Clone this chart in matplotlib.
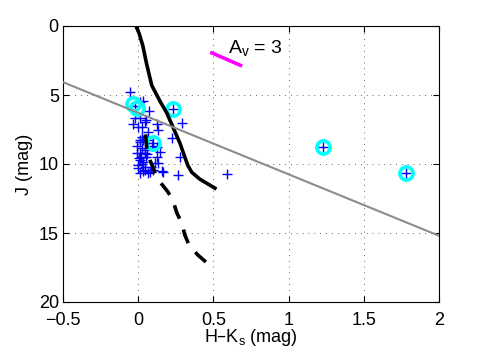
#!/usr/bin/env python3
"""Colour-magnitude diagram J vs H-Ks, MATLAB look."""
import matplotlib
matplotlib.use('Agg')
import matplotlib.pyplot as plt
import numpy as np

plt.rcParams['font.family'] = ['Liberation Sans', 'DejaVu Sans']
plt.rcParams['mathtext.default'] = 'regular'

# stars (H-Ks, J)
star_hk = [-0.055, 0.032, 0.012, 0.072, -0.021, 0.012, 0.052, -0.035, 0.045, -0.001,
           0.025, 0.125, 0.132, 0.065, 0.025, 0.012, 0.032, 0.225, 0.291, 0.125,
           0.145, 0.125, 0.012, -0.008, 0.025, 0.045, 0.012, -0.008, 0.045, 0.019,
           0.052, 0.012, 0.032, -0.001, 0.025, 0.045, 0.085, -0.001, 0.045, 0.012,
           0.065, 0.078, 0.158, 0.112, 0.132, 0.278, 0.265, 0.59, 0.165, 0.092,
           0.065, -0.021, 0.231, 0.098, 1.229, 1.78, 0.005, 0.06, 0.1, 0.03]
star_j = [4.78, 5.43, 5.51, 6.16, 6.67, 6.67, 6.81, 7.10, 6.96, 7.32,
          7.32, 7.10, 7.54, 7.68, 8.04, 8.26, 8.26, 8.12, 7.03, 8.77,
          9.13, 9.49, 8.41, 8.70, 8.84, 8.99, 9.20, 9.20, 9.20, 9.49,
          9.49, 9.71, 9.86, 10.07, 10.00, 10.22, 10.22, 10.29, 10.43, 10.65,
          10.65, 10.58, 10.51, 9.93, 9.93, 9.49, 10.80, 10.72, 10.58, 8.70,
          8.26, 5.80, 6.01, 8.48, 8.77, 10.65, 9.6, 9.3, 10.4, 10.5]

# highlighted stars
sel_hk = [-0.035, -0.01, 0.231, 0.098, 1.229, 1.78]
sel_j = [5.65, 5.95, 6.01, 8.48, 8.77, 10.65]

# isochrone, solid part
iso_hk = [-0.015, 0.005, 0.03, 0.057, 0.09, 0.145, 0.19, 0.23, 0.278, 0.31,
          0.33, 0.356, 0.41, 0.51]
iso_j = [0.0, 0.5, 1.4, 2.8, 4.3, 5.45, 6.3, 7.3, 8.5, 9.5,
         10.1, 10.6, 11.1, 11.75]

# isochrone, dashed part
isod_hk = [0.045, 0.058, 0.078, 0.11, 0.145, 0.198, 0.23, 0.257, 0.29, 0.31,
           0.338, 0.397, 0.45]
isod_j = [7.17, 8.99, 9.71, 10.58, 11.3, 12.03, 12.6, 13.55, 14.28, 15.14,
          15.87, 16.6, 17.1]

# grey separation line
sep_hk = [-0.5, 2.0]
sep_j = [4.07, 15.2]

# reddening vector A_v = 3
red_hk = [0.49, 0.68]
red_j = [1.95, 2.85]

fig = plt.figure(figsize=(4.85, 3.61), dpi=100)
ax = fig.add_axes([63 / 485, 59 / 361, 376 / 485, 276 / 361])

ax.plot(star_hk, star_j, '+', color=(0, 0, 1), ms=7, mew=1.0, zorder=3)
ax.plot(sel_hk, sel_j, 'o', mfc='none', mec=(0, 1, 1), ms=9.5, mew=2.6, zorder=4)
ax.plot(iso_hk, iso_j, '-', color='k', lw=2.6, zorder=5)
# drawn from the bottom end so the pattern starts with a dash there
ax.plot(isod_hk[::-1], isod_j[::-1], color='k', lw=2.6, dashes=(4, 3.2), zorder=5)
ax.plot(sep_hk, sep_j, '-', color=(0.55, 0.55, 0.55), lw=1.5, zorder=6)
ax.plot(red_hk, red_j, '-', color=(1, 0, 1), lw=2.6, zorder=6)
ax.text(0.6, 1.6, 'A$_v$ = 3', fontsize=14, va='center', ha='left')

ax.set_xlim(-0.5, 2)
ax.set_ylim(20, 0)
ax.set_xticks([-0.5, 0, 0.5, 1, 1.5, 2])
ax.set_xticklabels(['\u22120.5', '0', '0.5', '1', '1.5', '2'])
ax.set_yticks([0, 5, 10, 15, 20])
ax.tick_params(direction='in', top=True, right=True, length=4, width=0.8,
               labelsize=13)
ax.tick_params(axis='x', pad=7)
ax.tick_params(axis='y', pad=3)
ax.grid(True, color='k', lw=0.6, dashes=(1, 6), alpha=0.8)
for s in ax.spines.values():
    s.set_linewidth(0.8)

ax.set_xlabel('H\u2013K$_s$ (mag)', fontsize=13, labelpad=-1)
ax.set_ylabel('J (mag)', fontsize=13, labelpad=4)

plt.savefig('out.png', dpi=100)
plt.close()
